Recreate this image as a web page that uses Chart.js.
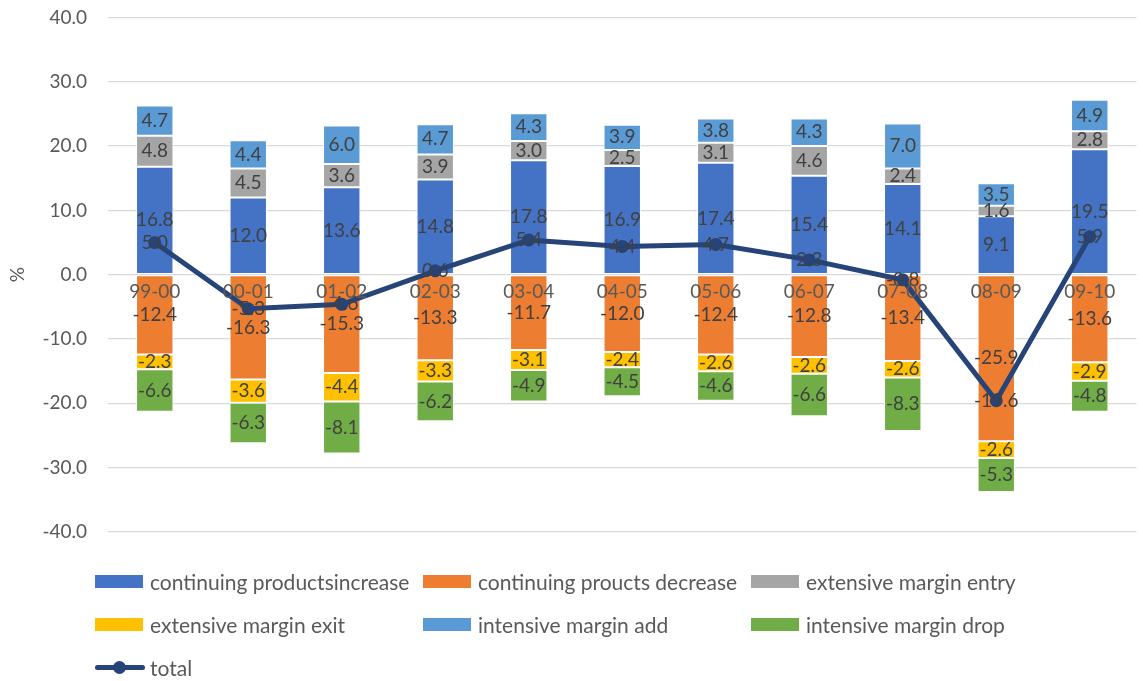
<!DOCTYPE html>
<html>
<head>
<meta charset="utf-8">
<script src="https://cdn.jsdelivr.net/npm/chart.js@4.4.1/dist/chart.umd.min.js"></script>
<style>
body { margin: 0; background: #fff; font-family: Lato, sans-serif; }
#wrap { position: relative; width: 1143px; height: 681px; overflow: hidden; }
#chart { position: absolute; left: 0; top: -15px; }
#legend { position: absolute; left: 0; top: 0; width: 1143px; height: 681px; pointer-events: none; }
.item { position: absolute; height: 24px; display: flex; align-items: center; color: #595959; font-size: 21px; white-space: nowrap; }
.box { width: 48px; height: 13px; margin-right: 7px; flex: none; }
.ln { position: relative; width: 50px; height: 13px; margin-right: 5px; flex: none; }
.ln:before { content: ''; position: absolute; left: 0; right: 0; top: 4px; height: 5px; background: #264478; border-radius: 3px; }
.ln:after { content: ''; position: absolute; left: 18px; top: 0; width: 13px; height: 13px; border-radius: 50%; background: #264478; }
</style>
</head>
<body>
<div id="wrap">
  <canvas id="chart" width="1143" height="696"></canvas>
  <div id="legend"></div>
</div>
<script>
// categories
const periods = ['99-00', '00-01', '01-02', '02-03', '03-04', '04-05', '05-06', '06-07', '07-08', '08-09', '09-10'];

// series values (%)
const contIncrease = [16.8, 12.0, 13.6, 14.8, 17.8, 16.9, 17.4, 15.4, 14.1, 9.1, 19.5];
const contDecrease = [-12.4, -16.3, -15.3, -13.3, -11.7, -12.0, -12.4, -12.8, -13.4, -25.9, -13.6];
const extEntry = [4.8, 4.5, 3.6, 3.9, 3.0, 2.5, 3.1, 4.6, 2.4, 1.6, 2.8];
const extExit = [-2.3, -3.6, -4.4, -3.3, -3.1, -2.4, -2.6, -2.6, -2.6, -2.6, -2.9];
const intAdd = [4.7, 4.4, 6.0, 4.7, 4.3, 3.9, 3.8, 4.3, 7.0, 3.5, 4.9];
const intDrop = [-6.6, -6.3, -8.1, -6.2, -4.9, -4.5, -4.6, -6.6, -8.3, -5.3, -4.8];
const total = [5.0, -5.3, -4.6, 0.6, 5.4, 4.4, 4.7, 2.3, -0.8, -19.6, 5.9];

// y axis ticks
const yMin = -40, yMax = 40, yStep = 10;

const barSeries = [
    { label: 'continuing productsincrease', data: contIncrease, color: '#4472C4' },
    { label: 'continuing proucts decrease', data: contDecrease, color: '#ED7D31' },
    { label: 'extensive margin entry', data: extEntry, color: '#A5A5A5' },
    { label: 'extensive margin exit', data: extExit, color: '#FFC000' },
    { label: 'intensive margin add', data: intAdd, color: '#5B9BD5' },
    { label: 'intensive margin drop', data: intDrop, color: '#70AD47' }
];
const lineColor = '#264478';
const font = 'Lato, sans-serif';

const datasets = barSeries.map(s => ({
    type: 'bar',
    label: s.label,
    data: s.data,
    backgroundColor: s.color,
    borderColor: '#ffffff',
    borderWidth: 1,
    borderSkipped: false,
    barPercentage: 0.4,
    categoryPercentage: 1.0,
    stack: 's',
    order: 1
}));
datasets.push({
    type: 'line',
    label: 'total',
    data: total,
    borderColor: lineColor,
    backgroundColor: lineColor,
    borderWidth: 5,
    pointRadius: 6.5,
    pointBackgroundColor: lineColor,
    pointBorderWidth: 0,
    tension: 0,
    order: 0
});

// value labels on segments and line points
const valueLabels = {
    id: 'valueLabels',
    afterDatasetsDraw(chart) {
        const c = chart.ctx;
        c.save();
        c.font = '19px ' + font;
        c.fillStyle = '#404040';
        c.textAlign = 'center';
        c.textBaseline = 'middle';
        chart.data.datasets.forEach((ds, i) => {
            const meta = chart.getDatasetMeta(i);
            meta.data.forEach((el, j) => {
                const v = ds.data[j];
                let y = el.y;
                if (ds.type === 'bar') y = (el.y + el.base) / 2;
                c.fillText(v.toFixed(1), el.x, y);
            });
        });
        c.restore();
    }
};

new Chart(document.getElementById('chart'), {
    data: { labels: periods, datasets: datasets },
    options: {
        responsive: false,
        animation: false,
        layout: { padding: { top: 6, right: 0, bottom: 149, left: 0 } },
        plugins: { legend: { display: false }, tooltip: { enabled: false } },
        scales: {
            x: {
                stacked: true,
                position: { y: 0 },
                grid: { display: false, drawTicks: false },
                border: { display: false },
                ticks: { z: 1, color: '#595959', font: { family: font, size: 19 }, padding: 6, autoSkip: false, maxRotation: 0 }
            },
            y: {
                stacked: true,
                min: yMin,
                max: yMax,
                grid: { color: '#d9d9d9', lineWidth: 1.3, drawTicks: false },
                border: { display: false },
                ticks: {
                    stepSize: yStep,
                    color: '#595959',
                    font: { family: font, size: 19 },
                    padding: 21,
                    callback: v => v.toFixed(1)
                },
                title: { display: true, text: '%', color: '#595959', font: { family: font, size: 19 }, padding: { top: 6, bottom: 0 } },
                afterFit(scale) { scale.width = 108; }
            }
        }
    },
    plugins: [valueLabels]
});

// legend (3 columns)
const legend = document.getElementById('legend');
const items = barSeries.map(s => ({ label: s.label, color: s.color })).concat([{ label: 'total', line: true }]);
items.forEach((it, k) => {
    const col = k % 3, row = Math.floor(k / 3);
    const d = document.createElement('div');
    d.className = 'item';
    d.style.left = (95 + col * 328) + 'px';
    d.style.top = (569 + row * 43) + 'px';
    const mark = document.createElement('span');
    if (it.line) { mark.className = 'ln'; }
    else { mark.className = 'box'; mark.style.background = it.color; }
    d.appendChild(mark);
    d.appendChild(document.createTextNode(it.label));
    legend.appendChild(d);
});
</script>
</body>
</html>
